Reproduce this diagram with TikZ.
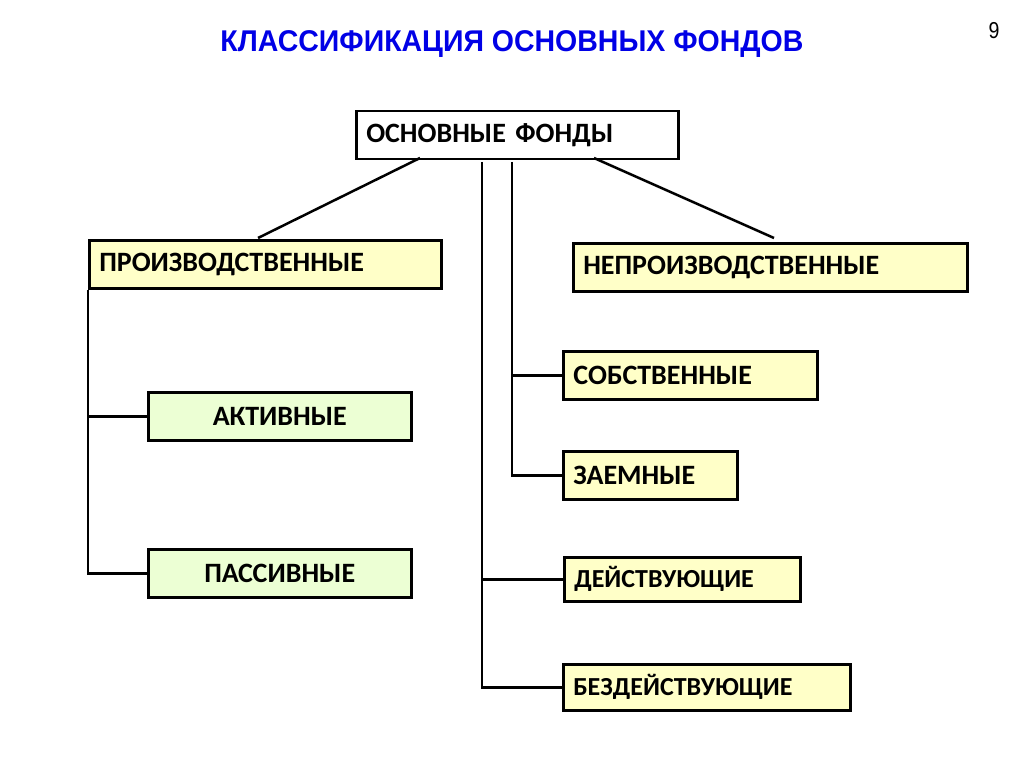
\documentclass[tikz,border=0pt]{standalone}
\usepackage{fontspec}
\setmainfont{Carlito}
\newfontfamily\titlefont{Liberation Sans}
\definecolor{boxyellow}{RGB}{255,255,200}
\definecolor{boxgreen}{RGB}{236,255,212}
\definecolor{titleblue}{RGB}{0,0,230}
\begin{document}
\begin{tikzpicture}[x=1pt,y=-1pt,
  bx/.style={draw=black, line width=2.5pt, anchor=north west, inner xsep=10pt, inner ysep=0pt,
    font=\bfseries\fontsize{28}{32}\selectfont, align=left},
  ybox/.style={bx, fill=boxyellow},
  sbox/.style={ybox, font=\bfseries\fontsize{26}{30}\selectfont},
  gbox/.style={bx, fill=boxgreen, align=center},
  wbox/.style={bx, fill=white},
  conn/.style={line width=2.5pt}]
\useasboundingbox (0,0) rectangle (1024,767);
\fill[white] (0,0) rectangle (1024,767);
\node[text=titleblue, font=\titlefont\bfseries\fontsize{30}{34}\selectfont] (title) at (512,44) {\scalebox{0.95}[1]{КЛАССИФИКАЦИЯ ОСНОВНЫХ ФОНДОВ}};
\node[font=\titlefont\fontsize{23}{26}\selectfont] (num) at (994,31) {\scalebox{0.85}[1]{9}};

\node[wbox, text width=302pt, minimum height=48pt] (of) at (355,110) {ОСНОВНЫЕ ФОНДЫ};
\node[ybox, text width=332pt, minimum height=48pt] (pr) at (88,239) {ПРОИЗВОДСТВЕННЫЕ};
\node[ybox, text width=374pt, minimum height=48pt] (np) at (572,242) {НЕПРОИЗВОДСТВЕННЫЕ};
\node[gbox, text width=243pt, minimum height=48pt] (ak) at (147,391) {АКТИВНЫЕ};
\node[gbox, text width=243pt, minimum height=48pt] (pa) at (147,548) {ПАССИВНЫЕ};
\node[ybox, text width=234pt, minimum height=48pt] (so) at (562,350) {СОБСТВЕННЫЕ};
\node[ybox, text width=154pt, minimum height=48pt] (za) at (562,450) {ЗАЕМНЫЕ};
\node[sbox, text width=216pt, minimum height=44pt] (de) at (563,556) {ДЕЙСТВУЮЩИЕ};
\node[sbox, text width=267pt, minimum height=46pt] (be) at (562,663) {БЕЗДЕЙСТВУЮЩИЕ};

\coordinate (t1) at (420,158);
\coordinate (t2) at (594,158);
\coordinate (b1) at (258,238);
\coordinate (b2) at (774,238);
\draw[conn] (t1) -- (b1);
\draw[conn] (t2) -- (b2);
% left tree
\draw[conn] (pr.south west) -- (pr.south west |- pa.west) -- (pa.west);
\draw[conn] (pr.south west |- ak.west) -- (ak.west);
% middle trees
\coordinate (m1) at (482,162);
\coordinate (m2) at (512,162);
\draw[conn] (m1) -- (m1 |- be.west) -- (be.west);
\draw[conn] (m1 |- de.west) -- (de.west);
\draw[conn] (m2) -- (m2 |- za.west) -- (za.west);
\draw[conn] (m2 |- so.west) -- (so.west);
\end{tikzpicture}
\end{document}
